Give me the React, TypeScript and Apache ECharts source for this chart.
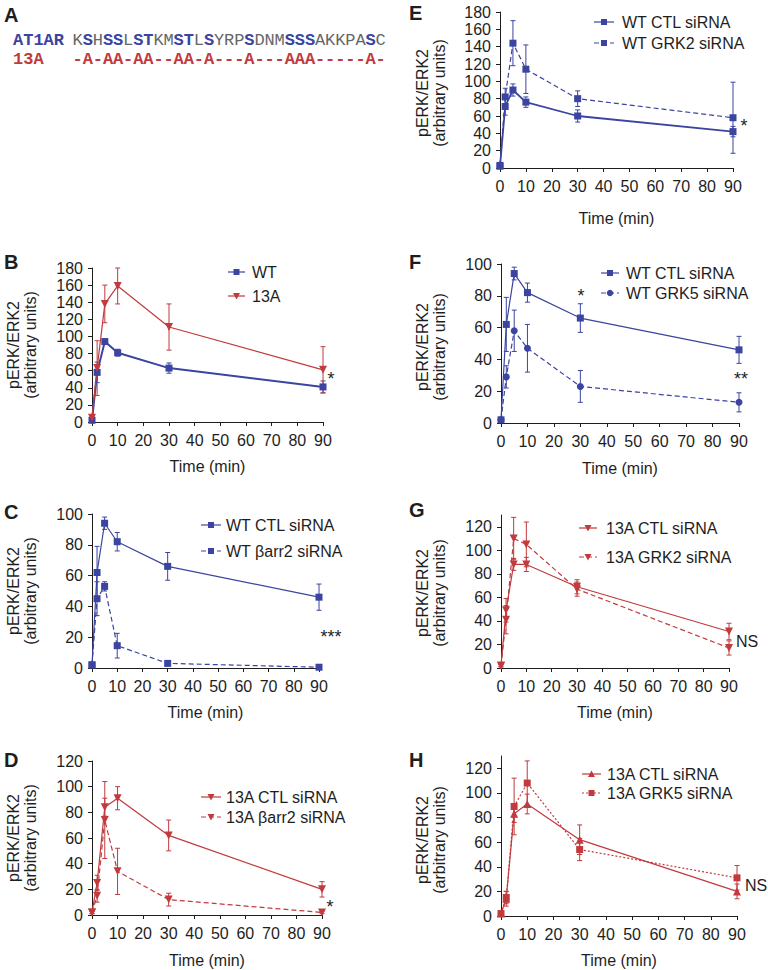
import React, { useEffect, useRef } from 'react';
import * as echarts from 'echarts';

// ---------- data ----------
const times = [0, 2, 5, 10, 30, 90];

const seqResidues = 'KSHSSLSTKMSTLSYRPSDNMSSSAKKPASC'.split('');
const mutantRow = '-A-AA-AA--AA-A---A---AAA-----A-'.split('');

// B
const bWT = [2, 58, 94, 81, 63, 41];
const bWTErr = [1, 12, 3, 4, 6, 7];
const b13A = [5, 63, 138, 159, 111, 61];
const b13AErr = [2, 32, 22, 21, 27, 27];
// C
const cCTL = [2, 62, 94, 82, 66, 46];
const cCTLErr = [1, 17, 4, 6, 9, 8.5];
const cArr2 = [2, 45, 53, 14.5, 3, 0.5];
const cArr2Err = [1, 11, 3, 8, 1, 0.5];
// D
const dCTL = [2, 25, 84, 91, 62, 20];
const dCTLErr = [1, 6, 7, 9, 12, 6];
const dArr2 = [2, 15, 74, 34, 12, 2];
const dArr2Err = [1, 5, 30, 18, 5, 1];
// E
const eCTL = [2, 71, 90, 76, 60, 42];
const eCTLErr = [1, 10, 7, 6, 7, 6];
const eGRK2 = [3, 82, 144, 114, 80, 58];
const eGRK2Err = [1, 10, 26, 28, 9, 41];
// F
const fCTL = [2, 62, 94, 82, 66, 46];
const fCTLErr = [1, 17, 4, 6, 9, 8.5];
const fGRK5 = [2, 29, 58, 47, 23, 13];
const fGRK5Err = [1, 7, 13, 15, 10, 6];
// G
const gCTL = [2, 49, 88, 88, 69, 31];
const gCTLErr = [1, 10, 5, 6, 6, 7];
const gGRK2 = [2, 41, 110, 105, 67, 17];
const gGRK2Err = [1, 12, 18, 19, 6, 6];
// H
const hCTL = [2, 14, 83, 91, 62, 20];
const hCTLErr = [1, 6, 7, 8, 12, 6];
const hGRK5 = [2, 15, 89, 108, 54, 31];
const hGRK5Err = [1, 5, 23, 18, 9, 10];

const yTickLabels = [0, 20, 40, 60, 80, 100, 120, 140, 160, 180];

const BLUE = '#3b44a0';
const RED = '#c13a3d';
const INK = '#1e1e1e';
const FONT = 'Liberation Sans, Arial, sans-serif';
const MONO = 'Liberation Mono, Courier New, monospace';

type Ser = {
  name: string;
  values: number[];
  errors: number[];
  color: string;
  symbol: 'rect' | 'tdown' | 'tup' | 'circle';
  dash: number[] | null;
  width: number;
};

type Panel = {
  label: string;
  labelX: number;
  labelY: number;
  left: number;
  right: number;
  top: number;
  bottom: number;
  yMax: number;
  tickMax: number;
  titleX: [number, number];
  titleY: number;
  timeY: number;
  legend: { x1: number; x2: number; tx: number; ys: number[] };
  series: Ser[];
  notes: { text: string; x: number; y: number }[];
};

const panels: Panel[] = [
  {
    label: 'B', labelX: 4, labelY: 262, left: 92, right: 323, top: 268, bottom: 422, yMax: 180, tickMax: 180,
    titleX: [13, 30], titleY: 345, timeY: 466,
    legend: { x1: 228, x2: 245, tx: 252, ys: [272, 296] },
    series: [
      { name: 'WT', values: bWT, errors: bWTErr, color: BLUE, symbol: 'rect', dash: null, width: 2 },
      { name: '13A', values: b13A, errors: b13AErr, color: RED, symbol: 'tdown', dash: null, width: 1.2 },
    ],
    notes: [{ text: '*', x: 331, y: 379 }],
  },
  {
    label: 'C', labelX: 4, labelY: 512, left: 92, right: 319, top: 514, bottom: 668, yMax: 100, tickMax: 100,
    titleX: [13, 30], titleY: 591, timeY: 712,
    legend: { x1: 201, x2: 221, tx: 226, ys: [525, 551] },
    series: [
      { name: 'WT CTL siRNA', values: cCTL, errors: cCTLErr, color: BLUE, symbol: 'rect', dash: null, width: 1.2 },
      { name: 'WT βarr2 siRNA', values: cArr2, errors: cArr2Err, color: BLUE, symbol: 'rect', dash: [5, 3], width: 1.2 },
    ],
    notes: [{ text: '***', x: 331, y: 637 }],
  },
  {
    label: 'D', labelX: 4, labelY: 760, left: 92, right: 322, top: 761, bottom: 915, yMax: 120, tickMax: 120,
    titleX: [13, 30], titleY: 838, timeY: 960,
    legend: { x1: 201, x2: 221, tx: 226, ys: [797, 817] },
    series: [
      { name: '13A CTL siRNA', values: dCTL, errors: dCTLErr, color: RED, symbol: 'tdown', dash: null, width: 1.2 },
      { name: '13A βarr2 siRNA', values: dArr2, errors: dArr2Err, color: RED, symbol: 'tdown', dash: [5, 3], width: 1.2 },
    ],
    notes: [{ text: '*', x: 330, y: 907 }],
  },
  {
    label: 'E', labelX: 409, labelY: 13, left: 500, right: 733, top: 12, bottom: 168, yMax: 180, tickMax: 180,
    titleX: [422, 439], titleY: 93, timeY: 218,
    legend: { x1: 594, x2: 614, tx: 622, ys: [22, 43] },
    series: [
      { name: 'WT CTL siRNA', values: eCTL, errors: eCTLErr, color: BLUE, symbol: 'rect', dash: null, width: 1.8 },
      { name: 'WT GRK2 siRNA', values: eGRK2, errors: eGRK2Err, color: BLUE, symbol: 'rect', dash: [5, 3], width: 1.2 },
    ],
    notes: [{ text: '*', x: 744, y: 126 }],
  },
  {
    label: 'F', labelX: 409, labelY: 262, left: 501, right: 739, top: 264, bottom: 423, yMax: 100, tickMax: 100,
    titleX: [422, 439], titleY: 347, timeY: 468,
    legend: { x1: 601, x2: 619, tx: 626, ys: [273, 293] },
    series: [
      { name: 'WT CTL siRNA', values: fCTL, errors: fCTLErr, color: BLUE, symbol: 'rect', dash: null, width: 1.2 },
      { name: 'WT GRK5 siRNA', values: fGRK5, errors: fGRK5Err, color: BLUE, symbol: 'circle', dash: [5, 3], width: 1.2 },
    ],
    notes: [{ text: '*', x: 581, y: 296 }, { text: '**', x: 741, y: 379 }],
  },
  {
    label: 'G', labelX: 409, labelY: 510, left: 501, right: 729, top: 515, bottom: 668, yMax: 130, tickMax: 120,
    titleX: [422, 439], titleY: 593, timeY: 712,
    legend: { x1: 579, x2: 597, tx: 606, ys: [528, 557] },
    series: [
      { name: '13A CTL siRNA', values: gCTL, errors: gCTLErr, color: RED, symbol: 'tdown', dash: null, width: 1.2 },
      { name: '13A GRK2 siRNA', values: gGRK2, errors: gGRK2Err, color: RED, symbol: 'tdown', dash: [5, 3], width: 1.2 },
    ],
    notes: [{ text: 'NS', x: 747, y: 641 }],
  },
  {
    label: 'H', labelX: 409, labelY: 760, left: 501, right: 737, top: 756, bottom: 916, yMax: 130, tickMax: 120,
    titleX: [422, 439], titleY: 840, timeY: 960,
    legend: { x1: 582, x2: 601, tx: 607, ys: [774, 793] },
    series: [
      { name: '13A CTL siRNA', values: hCTL, errors: hCTLErr, color: RED, symbol: 'tup', dash: null, width: 1.2 },
      { name: '13A GRK5 siRNA', values: hGRK5, errors: hGRK5Err, color: RED, symbol: 'rect', dash: [2, 2], width: 1.2 },
    ],
    notes: [{ text: 'NS', x: 756, y: 885 }],
  },
];

function txt(text: string, x: number, y: number, opts: any = {}) {
  return {
    type: 'text',
    x,
    y,
    rotation: opts.rotation || 0,
    silent: true,
    style: {
      text,
      fill: opts.fill || INK,
      fontSize: opts.fontSize || 16,
      fontWeight: opts.fontWeight || 'normal',
      fontFamily: opts.fontFamily || FONT,
      align: opts.align || 'center',
      textAlign: opts.align || 'center',
      verticalAlign: 'middle',
      textVerticalAlign: 'middle',
    },
  };
}

function legendSymbol(kind: string, cx: number, cy: number, color: string) {
  if (kind === 'rect') {
    return { type: 'rect', silent: true, shape: { x: cx - 3, y: cy - 3, width: 6, height: 6 }, style: { fill: color } };
  }
  if (kind === 'circle') {
    return { type: 'circle', silent: true, shape: { cx, cy, r: 3.2 }, style: { fill: color } };
  }
  if (kind === 'tup') {
    return { type: 'polygon', silent: true, shape: { points: [[cx - 3.5, cy + 3], [cx + 3.5, cy + 3], [cx, cy - 3.5]] }, style: { fill: color } };
  }
  return { type: 'polygon', silent: true, shape: { points: [[cx - 3.5, cy - 3], [cx + 3.5, cy - 3], [cx, cy + 3.5]] }, style: { fill: color } };
}

function buildOption() {
  const grid: any[] = [];
  const xAxis: any[] = [];
  const yAxis: any[] = [];
  const series: any[] = [];
  const graphic: any[] = [];

  // Panel A
  graphic.push(txt('A', 4, 15, { fontSize: 20, fontWeight: 'bold', align: 'left' }));
  graphic.push(txt('AT1AR', 13, 40, { fontSize: 17, fontWeight: 'bold', align: 'left', fontFamily: MONO, fill: BLUE }));
  graphic.push(txt('13A', 13, 59, { fontSize: 17, fontWeight: 'bold', align: 'left', fontFamily: MONO, fill: RED }));
  seqResidues.forEach((ch, i) => {
    const cx = 72.7 + 5 + i * 10.1;
    const hit = mutantRow[i] === 'A';
    graphic.push(txt(ch, cx, 40, { fontSize: 17, fontFamily: MONO, fill: hit ? BLUE : '#666', fontWeight: hit ? 'bold' : 'normal' }));
    graphic.push(txt(mutantRow[i], cx, 59, { fontSize: 17, fontFamily: MONO, fill: RED, fontWeight: 'bold' }));
  });

  panels.forEach((p, i) => {
    grid.push({ left: p.left, top: p.top, width: p.right - p.left, height: p.bottom - p.top, containLabel: false });
    xAxis.push({
      type: 'value', gridIndex: i, min: 0, max: 90, interval: 10,
      axisLine: { show: true, onZero: false, lineStyle: { color: INK, width: 1 } },
      axisTick: { show: true, length: 4, lineStyle: { color: INK } },
      axisLabel: { fontSize: 16, color: INK, margin: 10, fontFamily: FONT },
      splitLine: { show: false },
    });
    const tickVals = yTickLabels.filter((v) => v <= p.tickMax);
    yAxis.push({
      type: 'value', gridIndex: i, min: 0, max: p.yMax, interval: 20,
      axisLine: { show: true, onZero: false, lineStyle: { color: INK, width: 1 } },
      axisTick: { show: true, length: 4, lineStyle: { color: INK }, customValues: tickVals },
      axisLabel: { fontSize: 16, color: INK, margin: 9, fontFamily: FONT, customValues: tickVals },
      splitLine: { show: false },
    });

    p.series.forEach((s, k) => {
      const color = s.color;
      series.push({
        type: 'custom',
        xAxisIndex: i,
        yAxisIndex: i,
        silent: true,
        z: 1,
        data: times.map((t, j) => [t, s.values[j] - s.errors[j], s.values[j] + s.errors[j]]),
        renderItem: (params: any, api: any) => {
          const x = api.value(0);
          const lo = api.coord([x, api.value(1)]);
          const hi = api.coord([x, api.value(2)]);
          const w = 2.5;
          const st = { stroke: color, lineWidth: 1 };
          return {
            type: 'group',
            children: [
              { type: 'line', shape: { x1: lo[0], y1: lo[1], x2: hi[0], y2: hi[1] }, style: st },
              { type: 'line', shape: { x1: lo[0] - w, y1: lo[1], x2: lo[0] + w, y2: lo[1] }, style: st },
              { type: 'line', shape: { x1: hi[0] - w, y1: hi[1], x2: hi[0] + w, y2: hi[1] }, style: st },
            ],
          };
        },
      });
      const sym = s.symbol === 'rect' ? 'rect' : s.symbol === 'circle' ? 'circle' : 'triangle';
      series.push({
        type: 'line',
        name: s.name,
        xAxisIndex: i,
        yAxisIndex: i,
        z: 2,
        data: times.map((t, j) => [t, s.values[j]]),
        symbol: sym,
        symbolRotate: s.symbol === 'tdown' ? 180 : 0,
        symbolSize: sym === 'rect' ? 7 : sym === 'circle' ? 7 : 8,
        showAllSymbol: true,
        lineStyle: { color, width: s.width, type: s.dash ? s.dash : 'solid' },
        itemStyle: { color },
        emphasis: { disabled: true },
      });

      // legend entry
      const ly = p.legend.ys[k];
      graphic.push({
        type: 'line', silent: true,
        shape: { x1: p.legend.x1, y1: ly, x2: p.legend.x2, y2: ly },
        style: { stroke: color, lineWidth: 1.2, lineDash: s.dash || undefined },
      });
      graphic.push(legendSymbol(s.symbol, (p.legend.x1 + p.legend.x2) / 2, ly, color));
      graphic.push(txt(s.name, p.legend.tx, ly, { align: 'left', fontSize: 16 }));
    });

    // panel label, axis titles
    graphic.push(txt(p.label, p.labelX, p.labelY, { fontSize: 20, fontWeight: 'bold', align: 'left' }));
    graphic.push(txt('pERK/ERK2', p.titleX[0], p.titleY, { rotation: Math.PI / 2 }));
    graphic.push(txt('(arbitrary units)', p.titleX[1], p.titleY, { rotation: Math.PI / 2 }));
    graphic.push(txt('Time (min)', (p.left + p.right) / 2, p.timeY));
    p.notes.forEach((n) => {
      const isStar = n.text.indexOf('*') >= 0;
      graphic.push(txt(n.text, n.x, n.y, { fontSize: isStar ? 18 : 16 }));
    });
  });

  return {
    animation: false,
    backgroundColor: '#ffffff',
    textStyle: { fontFamily: FONT },
    grid,
    xAxis,
    yAxis,
    series,
    graphic: { elements: graphic },
  };
}

export default function App() {
  const ref = useRef<HTMLDivElement>(null);
  useEffect(() => {
    if (!ref.current) return;
    const chart = echarts.init(ref.current, undefined, { renderer: 'svg' });
    chart.setOption(buildOption() as any);
    return () => chart.dispose();
  }, []);
  return (
    <div
      ref={ref}
      style={{ position: 'absolute', left: 0, top: 0, width: 768, height: 970, background: '#fff' }}
    />
  );
}
